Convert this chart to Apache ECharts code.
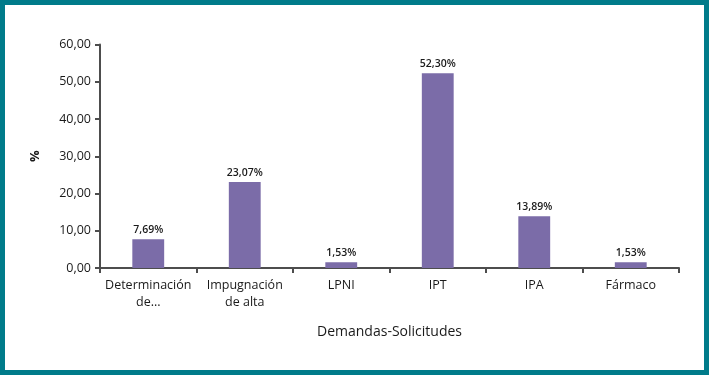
<!DOCTYPE html>
<html><head><meta charset="utf-8">
<script src="https://cdn.jsdelivr.net/npm/echarts@6/dist/echarts.min.js"></script>
<style>
html,body{margin:0;padding:0;background:#fff;}
#wrap{position:absolute;left:0;top:0;width:699px;height:365px;border:5px solid #007b8a;}
#c{position:absolute;left:-5px;top:-5px;width:709px;height:375px;}
</style></head>
<body><div id="wrap"><div id="c"></div></div>
<script>
const categories = ['Determinación\nde...', 'Impugnación\nde alta', 'LPNI', 'IPT', 'IPA', 'Fármaco'];
const values = [7.69, 23.07, 1.53, 52.30, 13.89, 1.53];
const yTicks = {min: 0, max: 60, interval: 10};
const xName = 'Demandas-Solicitudes';
const yName = '%';

const fam = '"Open Sans", "Noto Sans", sans-serif';
const txt = '#1a1a1a';
const chart = echarts.init(document.getElementById('c'));
chart.setOption({
  animation: false,
  grid: {left: 100, right: 30, top: 44.5, bottom: 107},
  xAxis: {
    type: 'category', data: categories,
    name: xName, nameLocation: 'middle', nameGap: 57,
    nameTextStyle: {fontFamily: fam, fontSize: 14, color: txt},
    axisLine: {lineStyle: {color: '#4d4d4d', width: 2}},
    axisTick: {show: true, length: 5, lineStyle: {color: '#4d4d4d', width: 2}},
    axisLabel: {fontFamily: fam, fontSize: 12.5, color: txt, margin: 9, lineHeight: 17, interval: 0, fontWeight: 500}
  },
  yAxis: {
    type: 'value', min: yTicks.min, max: yTicks.max, interval: yTicks.interval,
    name: yName, nameLocation: 'middle', nameGap: 58, nameRotate: 90,
    nameTextStyle: {fontFamily: fam, fontSize: 13, color: txt, fontWeight: 'bold'},
    splitLine: {show: false},
    axisLine: {show: true, lineStyle: {color: '#4d4d4d', width: 2}},
    axisTick: {show: true, length: 5, lineStyle: {color: '#4d4d4d', width: 2}},
    axisLabel: {fontFamily: fam, fontSize: 12.5, color: txt, margin: 9, fontWeight: 500,
      formatter: v => v.toFixed(2).replace('.', ',')}
  },
  series: [{
    type: 'bar', data: values, barWidth: '33%',
    itemStyle: {color: '#7b6ca8'},
    label: {show: true, position: 'top', distance: 4, fontFamily: fam, fontSize: 10.5, color: txt, fontWeight: 600,
      formatter: p => p.value.toFixed(2).replace('.', ',') + '%'}
  }]
});
</script></body></html>
